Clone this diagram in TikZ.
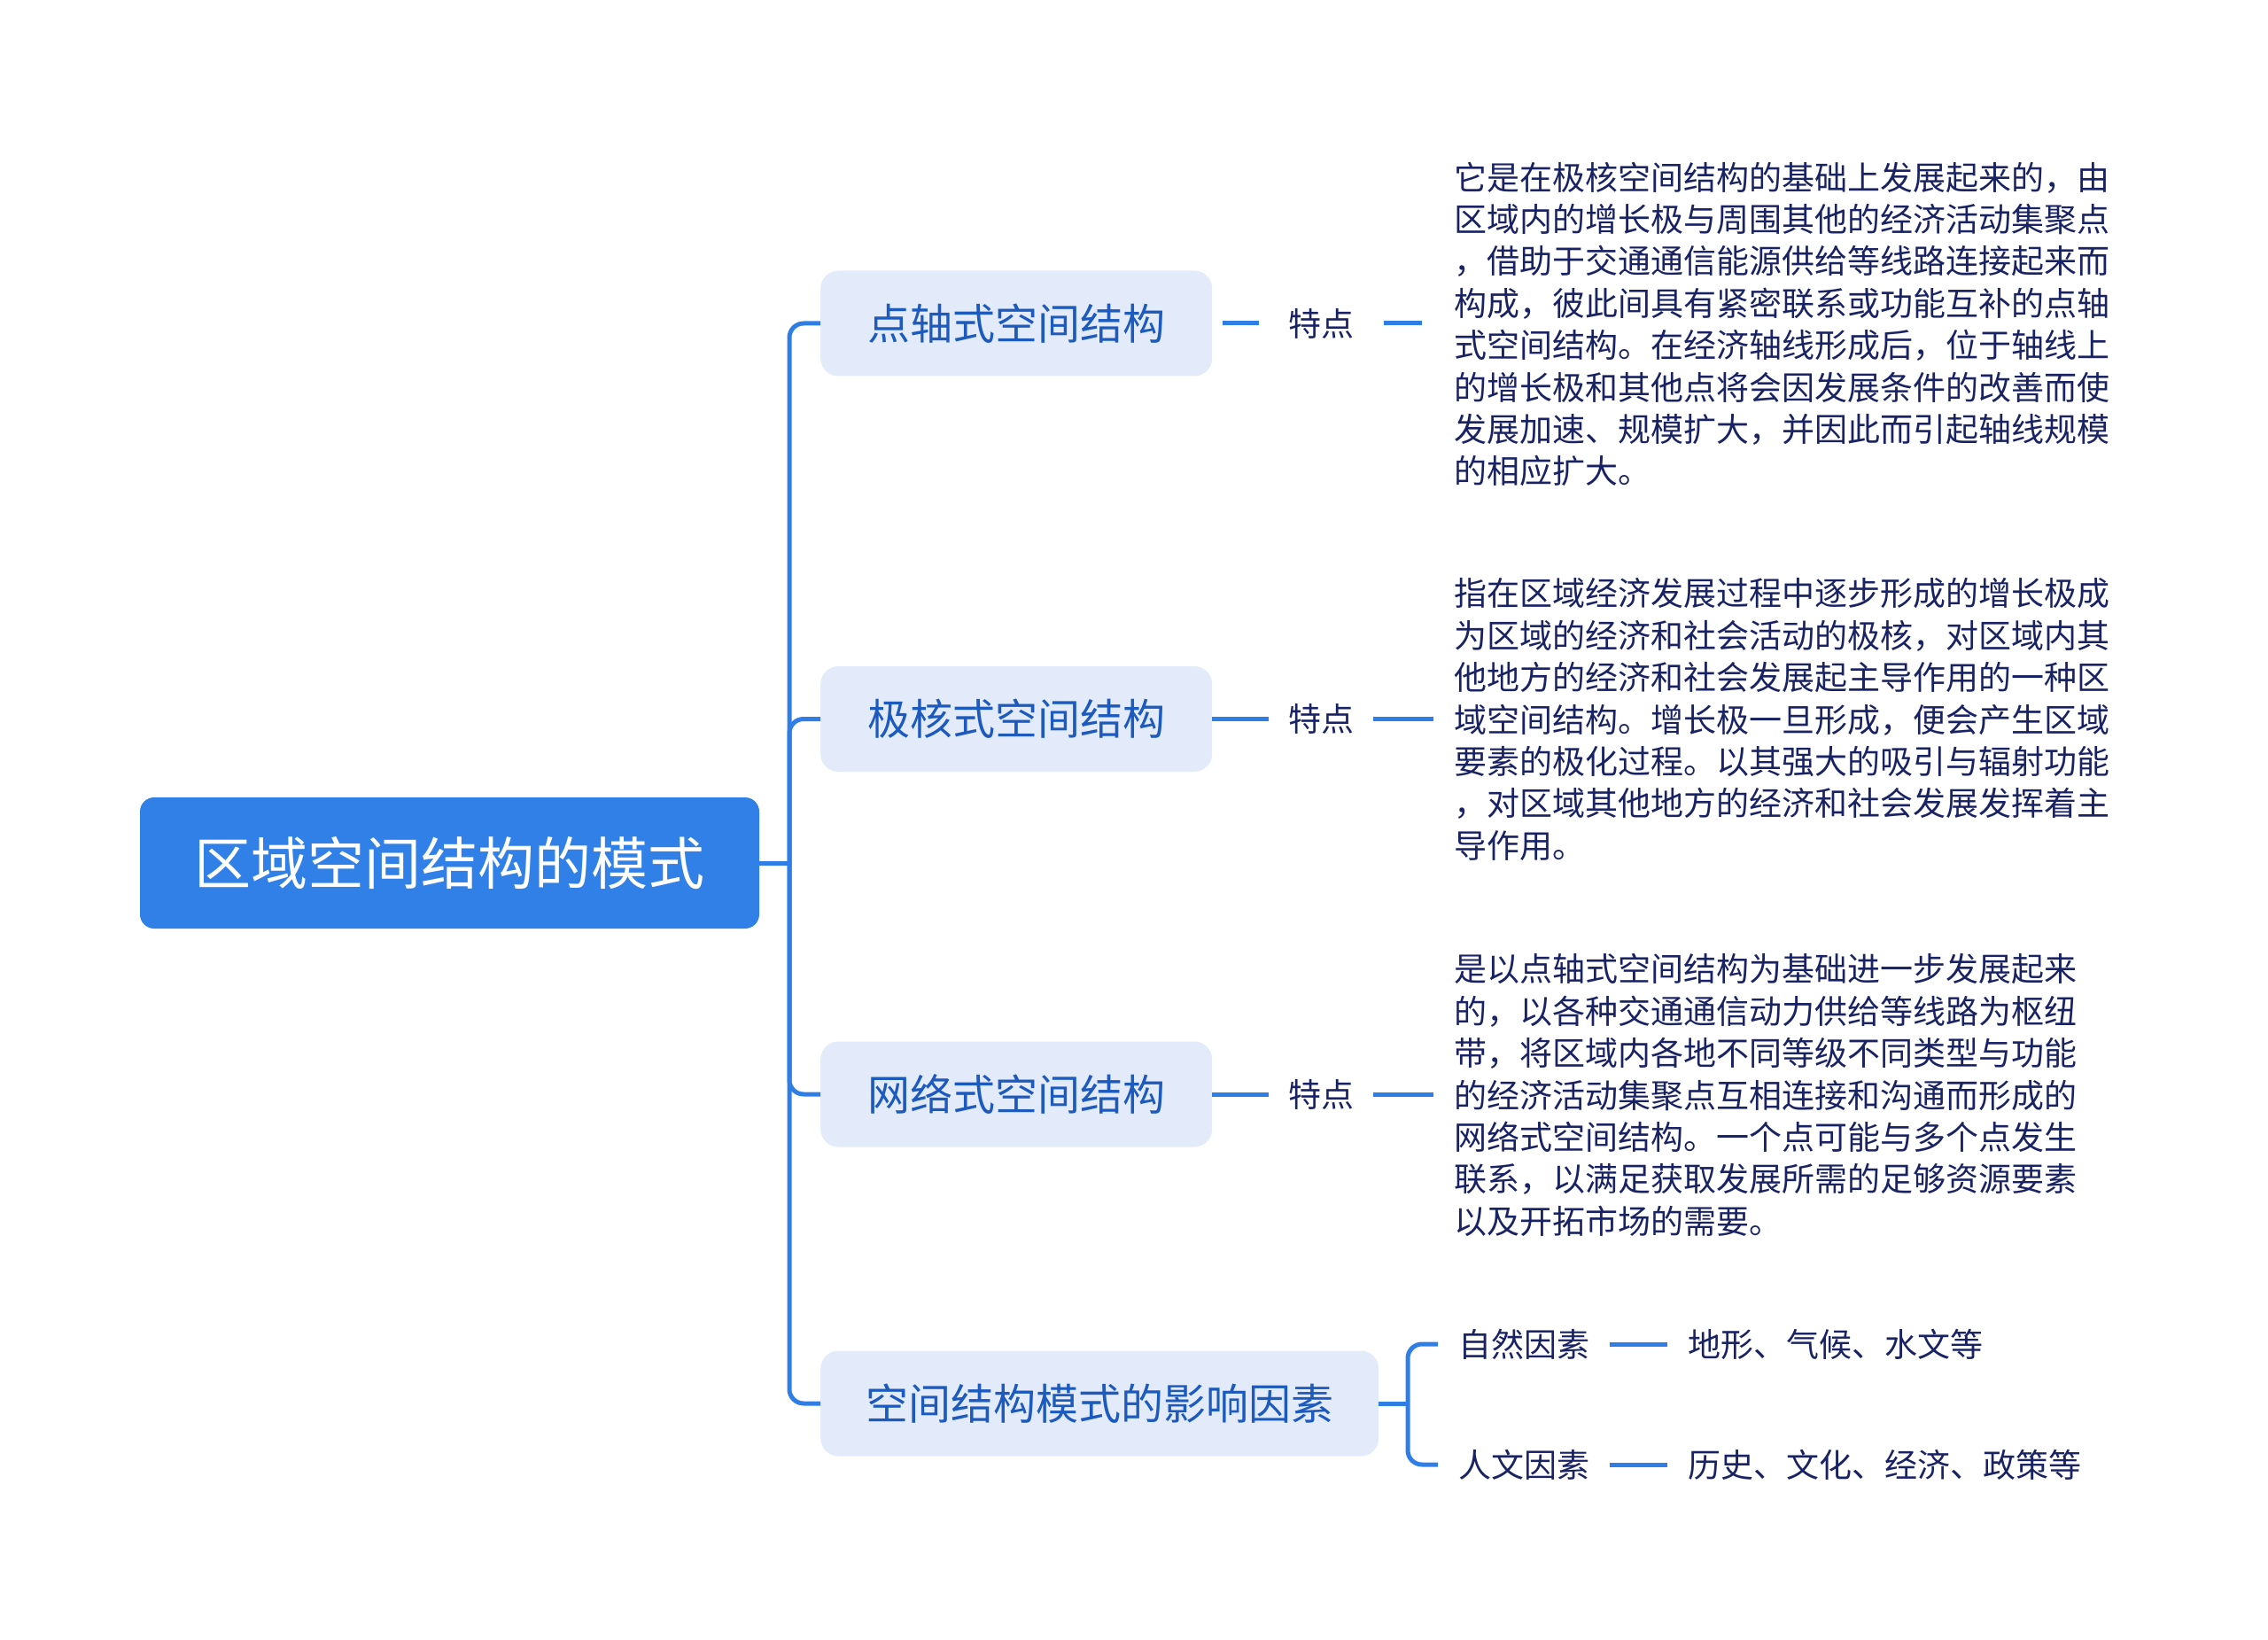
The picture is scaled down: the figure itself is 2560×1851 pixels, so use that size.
\documentclass[tikz,border=0pt]{standalone}
\usepackage{fontspec}
\setmainfont{Noto Sans CJK SC}
\definecolor{lineblue}{RGB}{47,126,230}
\definecolor{rootblue}{RGB}{49,128,232}
\definecolor{branchfill}{RGB}{227,235,251}
\definecolor{branchtext}{RGB}{28,90,190}
\definecolor{navy}{RGB}{25,35,100}
\begin{document}
\begin{tikzpicture}[x=1pt,y=-1pt,
  conn/.style={draw=lineblue,line width=5pt},
  rootbox/.style={fill=rootblue,rounded corners=16pt,text=white,font=\fontsize{64}{64}\selectfont,minimum width=699pt,minimum height=148pt,inner sep=0pt},
  branchbox/.style={fill=branchfill,rounded corners=20pt,text=branchtext,font=\fontsize{48}{48}\selectfont,minimum height=119pt,inner xsep=53pt,inner ysep=0pt,anchor=west},
  labelnode/.style={text=navy,font=\fontsize{37}{37}\selectfont,inner xsep=22pt,inner ysep=4pt},
  detailnode/.style={text=navy,font=\fontsize{37}{47.4}\selectfont,inner xsep=23pt,inner ysep=0pt,align=left,anchor=west},
  leafnode/.style={text=navy,font=\fontsize{37}{37}\selectfont,inner xsep=23pt,inner ysep=4pt,anchor=west}
]
\useasboundingbox (0,0) rectangle (2560,1851);

\node[rootbox] (root) at (507.5,974) {区域空间结构的模式};

\node[branchbox] (b1) at (926,365) {点轴式空间结构};
\node[branchbox] (b2) at (926,811.5) {极核式空间结构};
\node[branchbox] (b3) at (926,1235) {网络式空间结构};
\node[branchbox,inner xsep=51pt] (b4) at (926,1584) {空间结构模式的影响因素};

\node[labelnode] (t1) at (1491,365) {特点};
\node[labelnode] (t2) at (1491,811.5) {特点};
\node[labelnode] (t3) at (1491,1235) {特点};

\node[detailnode] (d1) at (1618,366) {它是在极核空间结构的基础上发展起来的，由\\区域内的增长极与周围其他的经济活动集聚点\\，借助于交通通信能源供给等线路连接起来而\\构成，彼此间具有紧密联系或功能互补的点轴\\式空间结构。在经济轴线形成后，位于轴线上\\的增长极和其他点将会因发展条件的改善而使\\发展加速、规模扩大，并因此而引起轴线规模\\的相应扩大。};
\node[detailnode] (d2) at (1618,812) {指在区域经济发展过程中逐步形成的增长极成\\为区域的经济和社会活动的极核，对区域内其\\他地方的经济和社会发展起主导作用的一种区\\域空间结构。增长极一旦形成，便会产生区域\\要素的极化过程。以其强大的吸引与辐射功能\\，对区域其他地方的经济和社会发展发挥着主\\导作用。};
\node[detailnode] (d3) at (1618,1236) {是以点轴式空间结构为基础进一步发展起来\\的，以各种交通通信动力供给等线路为枢纽\\带，将区域内各地不同等级不同类型与功能\\的经济活动集聚点互相连接和沟通而形成的\\网络式空间结构。一个点可能与多个点发生\\联系，以满足获取发展所需的足够资源要素\\以及开拓市场的需要。};

\node[leafnode] (n1) at (1623,1517) {自然因素};
\node[leafnode] (n2) at (1623,1653) {人文因素};
\node[leafnode] (l1) at (1882,1517) {地形、气候、水文等};
\node[leafnode] (l2) at (1882,1653) {历史、文化、经济、政策等};

% spine
\coordinate (hub) at (891,974);
\draw[conn] (root.east) -- (hub);
\draw[conn,rounded corners=16pt] (hub) |- (b1.west);
\draw[conn,rounded corners=16pt] (hub) |- (b2.west);
\draw[conn,rounded corners=16pt] (hub) |- (b3.west);
\draw[conn,rounded corners=16pt] (hub) |- (b4.west);

% feature connectors
\draw[conn,shorten <=12pt,shorten >=11pt] (b1.east) -- (t1.west);
\draw[conn,shorten <=12pt,shorten >=13pt] (t1.east) -- (t1.east -| d1.west);
\draw[conn] (b2.east) -- (t2.west);
\draw[conn] (t2.east) -- (t2.east -| d2.west);
\draw[conn] (b3.east) -- (t3.west);
\draw[conn] (t3.east) -- (t3.east -| d3.west);

% factors bracket
\coordinate (hub4) at (1589,1584);
\draw[conn] (b4.east) -- (hub4);
\draw[conn,rounded corners=16pt] (hub4) |- (n1.west);
\draw[conn,rounded corners=16pt] (hub4) |- (n2.west);
\draw[conn] (n1.east) -- (l1.west);
\draw[conn] (n2.east) -- (l2.west);
\end{tikzpicture}
\end{document}
